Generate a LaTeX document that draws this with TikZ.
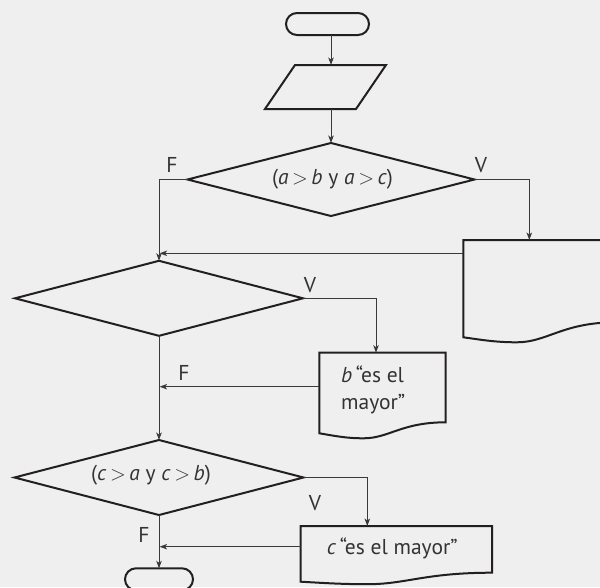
\documentclass[tikz,border=0pt]{standalone}
\usepackage{fontspec}
\setmainfont{PT Sans}
\usetikzlibrary{arrows.meta,shapes.geometric,calc}
\definecolor{bgc}{HTML}{EFEFEF}
\definecolor{inkc}{HTML}{231F20}
\definecolor{linec}{HTML}{3A3A3A}
\definecolor{txtc}{HTML}{333333}
\tikzset{
  shp/.style={draw=inkc,line width=2pt,line join=miter},
  hold/.style={rectangle,inner sep=0pt,outer sep=0pt},
  term/.style={rectangle,draw=inkc,line width=2pt,rounded corners=11pt,inner sep=0pt,outer sep=0pt,minimum height=22pt},
  dia/.style={diamond,draw=inkc,line width=2pt,inner sep=0pt,outer sep=0pt},
  arr/.style={draw=linec,line width=1pt,-{Stealth[length=7.5pt,width=5.5pt,inset=2pt]}},
  lbl/.style={text=txtc,font=\fontsize{21.5}{25}\selectfont,inner sep=0pt},
}
\newcommand{\gtsym}{\,$>$\,}
\newcommand{\docoutline}[3]{%
  \draw[shp] let \p1=(#1.south west), \p2=(#1.north east), \n1={\x2-\x1} in
  (#1.north west) -- (#1.north east) -- (\x2,{\y1+#2})
  .. controls ({\x2-0.35*\n1},{\y1+#2}) and ({\x1+0.55*\n1},{\y1-#3}) .. ({\x1+0.35*\n1},{\y1-#3})
  .. controls ({\x1+0.2*\n1},{\y1-#3}) and ({\x1+0.1*\n1},{\y1-0.4*#3}) .. (\p1) -- cycle;}
\begin{document}
\begin{tikzpicture}[x=1pt,y=-1pt]
\useasboundingbox (0,0) rectangle (600,587);
\fill[bgc] (0,0) rectangle (600,587);
\clip (0,0) rectangle (600,587);

% shapes
\node[term,minimum width=83pt] (start) at (327.5,24) {};
\node[hold,minimum width=121pt,minimum height=44pt] (para) at (325.5,87) {};
\draw[shp] ($(para.north west)+(30,0)$) -- (para.north east) -- ($(para.south east)+(-30,0)$) -- (para.south west) -- cycle;
\node[dia,minimum width=287pt,minimum height=73pt] (d1) at (331,179.5) {};
\node[lbl] (t1) at (332.5,179) {(\textit{a}\gtsym\textit{b} y \textit{a}\gtsym\textit{c})};

\node[hold,minimum width=152.7pt,minimum height=97.3pt] (bigdoc) at (539.65,288.65) {};
\docoutline{bigdoc}{15pt}{5pt}

\node[dia,minimum width=288pt,minimum height=75pt] (d2) at (159,298.3) {};

\node[hold,minimum width=126.4pt,minimum height=80.6pt] (db) at (382.5,393) {};
\docoutline{db}{11pt}{5pt}
\node[lbl,anchor=west,align=left,font=\fontsize{21.5}{27}\selectfont] (tb) at (341,390.3) {\textit{b}\,“es el\\mayor”};

\node[dia,minimum width=289pt,minimum height=75pt] (d3) at (159,477.5) {};
\node[lbl] (t3) at (151,475.5) {(\textit{c}\gtsym\textit{a} y \textit{c}\gtsym\textit{b})};

\node[hold,minimum width=191.3pt,minimum height=55.7pt] (dc) at (396.35,553.85) {};
\docoutline{dc}{9pt}{2.5pt}
\node[lbl] (tc) at (392.3,548.3) {\textit{c}\,“es el mayor”};

\node[term,minimum width=68pt] (end) at (159,579.3) {};

% connectors
\draw[arr] (start.south -| d1.north) -- (para.north -| d1.north);
\draw[arr] (para.south -| d1.north) -- (d1.north);
\draw[arr] (d1.west) -| (d2.north);
\coordinate (bdin) at ($(bigdoc.north west)+(66,0)$);
\draw[arr] (d1.east) -| (bdin);
\coordinate (j1) at (159.6,253.3);
\draw[arr] (bigdoc.west |- j1) -- (j1);
\coordinate (dbin) at ($(db.north west)+(56.7,0)$);
\draw[arr] (d2.east) -| (dbin);
\coordinate (fb) at ($(db.north west)+(0,34)$);
\draw[arr] (fb) -- ($(fb -| d2.south)+(0.6,0)$);
\draw[arr] (d2.south) -- (d3.north);
\coordinate (dcin) at ($(dc.north west)+(66.6,0)$);
\draw[arr] (d3.east) -| (dcin);
\coordinate (fc) at ($(dc.north west)+(0,20.7)$);
\draw[arr] (fc) -- ($(fc -| d3.south)+(0.6,0)$);
\draw[arr] (d3.south) -- (end.north);

% labels
\node[lbl] (lf1) at (172,165) {F};
\node[lbl] (lv1) at (481,165) {V};
\node[lbl] (lv2) at (310,285) {V};
\node[lbl] (lf2) at (184,372.7) {F};
\node[lbl] (lv3) at (315,502.7) {V};
\node[lbl] (lf3) at (144,535) {F};
\end{tikzpicture}
\end{document}
